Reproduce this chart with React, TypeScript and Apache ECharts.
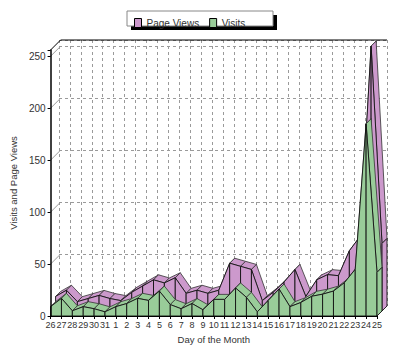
import React, { useEffect, useRef } from "react";
import * as echarts from "echarts";

const days = ["26","27","28","29","30","31","1","2","3","4","5","6","7","8","9","10","11","12","13","14","15","16","17","18","19","20","21","22","23","24","25"];
const pageViews = [14,20,9,12,15,12,10,18,24,30,27,32,17,20,17,20,46,43,40,10,18,28,40,14,30,35,34,58,72,255,65];
const visits = [9,17,5,9,7,4,9,12,17,15,24,11,7,12,6,16,16,27,18,4,15,26,9,13,19,21,24,32,45,185,42];
const yTicks = [0,50,100,150,200,250];
const Y_MAX = 256;

const FONT = "'Liberation Sans', Arial, sans-serif";
const PINK = "#cc99cc";
const GREEN = "#99cc99";
const TEXT = "#333";

function toData(arr: number[]) {
  return arr.map((v, i) => [i, v, i + 1 < arr.length ? arr[i + 1] : NaN]);
}

function makeRender(d0: number, d1: number, color: string) {
  return (params: any, api: any) => {
    const i = api.value(0);
    const v = api.value(1);
    const vn = api.value(2);
    const sh = (pt: number[], d: number) => [pt[0] + d, pt[1] - d];
    const p = api.coord([i, v]);
    const b = api.coord([i, 0]);
    const children: any[] = [];
    if (!isNaN(vn)) {
      const q = api.coord([i + 1, vn]);
      const qb = api.coord([i + 1, 0]);
      children.push({
        type: "polygon",
        shape: { points: [sh(p, d0), sh(q, d0), sh(q, d1), sh(p, d1)] },
        style: { fill: color, stroke: "#333", lineWidth: 0.8 },
      });
      children.push({
        type: "polygon",
        shape: { points: [sh(b, d0), sh(p, d0), sh(q, d0), sh(qb, d0)] },
        style: { fill: color, stroke: "#111", lineWidth: 0.9 },
      });
    } else {
      children.push({
        type: "polygon",
        shape: { points: [sh(b, d0), sh(p, d0), sh(p, d1), sh(b, d1)] },
        style: { fill: color, stroke: "#111", lineWidth: 0.9 },
      });
    }
    return { type: "group", children };
  };
}

export default function App() {
  const ref = useRef<HTMLDivElement>(null);
  useEffect(() => {
    if (!ref.current) return;
    document.body.style.margin = "0";
    const chart = echarts.init(ref.current, null, { renderer: "svg" });
    const decorData = yTicks.map((t) => [0, t]).concat([[0, Y_MAX]]);
    chart.setOption({
      animation: false,
      backgroundColor: "#fff",
      textStyle: { fontFamily: FONT },
      graphic: [
        { type: "rect", z: 0, shape: { x: 131, y: 15, width: 146, height: 15 }, style: { fill: "#000" } },
        { type: "rect", z: 0, shape: { x: 127, y: 11, width: 146, height: 15 }, style: { fill: "#fff", stroke: "#888", lineWidth: 1 } },
      ],
      legend: {
        z: 10,
        left: 129,
        top: 13,
        itemWidth: 7,
        itemHeight: 9,
        itemGap: 10,
        icon: "rect",
        textStyle: { fontSize: 10, color: TEXT, fontFamily: FONT },
        data: [
          { name: "Page Views", itemStyle: { color: PINK, borderColor: "#000", borderWidth: 1 } },
          { name: "Visits", itemStyle: { color: GREEN, borderColor: "#000", borderWidth: 1 } },
        ],
      },
      grid: [
        { left: 49, right: 23, top: 50, bottom: 40 },
        { left: 59, right: 13, top: 40, bottom: 50 },
      ],
      xAxis: [
        {
          type: "category",
          gridIndex: 0,
          data: days,
          boundaryGap: false,
          name: "Day of the Month",
          nameLocation: "middle",
          nameGap: 18,
          nameTextStyle: { fontSize: 9.5, color: TEXT, fontFamily: FONT },
          axisLine: { lineStyle: { color: "#000", width: 1 } },
          axisTick: { show: true, length: 3, interval: 0, lineStyle: { color: "#000" } },
          axisLabel: { interval: 0, fontSize: 9, color: TEXT, margin: 4, fontFamily: FONT },
          splitLine: { show: false },
          z: 5,
        },
        {
          type: "category",
          gridIndex: 1,
          data: days,
          boundaryGap: false,
          axisLine: { show: false },
          axisTick: { show: false },
          axisLabel: { show: false },
          splitLine: { show: true, interval: 0, lineStyle: { color: "#9a9a9a", type: [3, 3], width: 1 } },
        },
      ],
      yAxis: [
        {
          type: "value",
          gridIndex: 0,
          min: 0,
          max: Y_MAX,
          interval: 50,
          name: "Visits and Page Views",
          nameLocation: "middle",
          nameGap: 27,
          nameTextStyle: { fontSize: 9.5, color: TEXT, fontFamily: FONT },
          axisLine: { show: true, lineStyle: { color: "#000", width: 1.5 } },
          axisTick: { show: true, length: 3, lineStyle: { color: "#000" } },
          axisLabel: {
            fontSize: 10,
            color: TEXT,
            margin: 5,
            fontFamily: FONT,
            formatter: (v: number) => (v % 50 === 0 ? String(v) : ""),
          },
          splitLine: { show: false },
          z: 5,
        },
        {
          type: "value",
          gridIndex: 1,
          min: 0,
          max: Y_MAX,
          interval: 50,
          axisLine: { show: false },
          axisTick: { show: false },
          axisLabel: { show: false },
          splitLine: { show: true, lineStyle: { color: "#9a9a9a", type: [3, 3], width: 1 } },
        },
      ],
      series: [
        {
          type: "custom",
          name: "decor",
          xAxisIndex: 0,
          yAxisIndex: 0,
          z: 1,
          silent: true,
          data: decorData,
          renderItem: (params: any, api: any) => {
            const t = api.value(1);
            const p = api.coord([0, t]);
            const isTop = t === Y_MAX;
            const children: any[] = [
              {
                type: "line",
                shape: { x1: p[0], y1: p[1], x2: p[0] + 10, y2: p[1] - 10 },
                style: { stroke: isTop ? "#000" : "#9a9a9a", lineWidth: 1 },
              },
            ];
            if (isTop) {
              const e = api.coord([days.length - 1, t]);
              children.push({
                type: "line",
                shape: { x1: p[0] + 10, y1: p[1] - 10, x2: e[0] + 10, y2: e[1] - 10 },
                style: { stroke: "#000", lineWidth: 1 },
              });
            }
            return { type: "group", children };
          },
        },
        {
          type: "custom",
          name: "Page Views",
          xAxisIndex: 0,
          yAxisIndex: 0,
          z: 2,
          itemStyle: { color: PINK },
          data: toData(pageViews),
          renderItem: makeRender(5, 10, PINK),
        },
        {
          type: "custom",
          name: "Visits",
          xAxisIndex: 0,
          yAxisIndex: 0,
          z: 3,
          itemStyle: { color: GREEN },
          data: toData(visits),
          renderItem: makeRender(0, 5, GREEN),
        },
      ],
    });
    return () => chart.dispose();
  }, []);
  return <div ref={ref} style={{ width: 400, height: 356 }} />;
}
